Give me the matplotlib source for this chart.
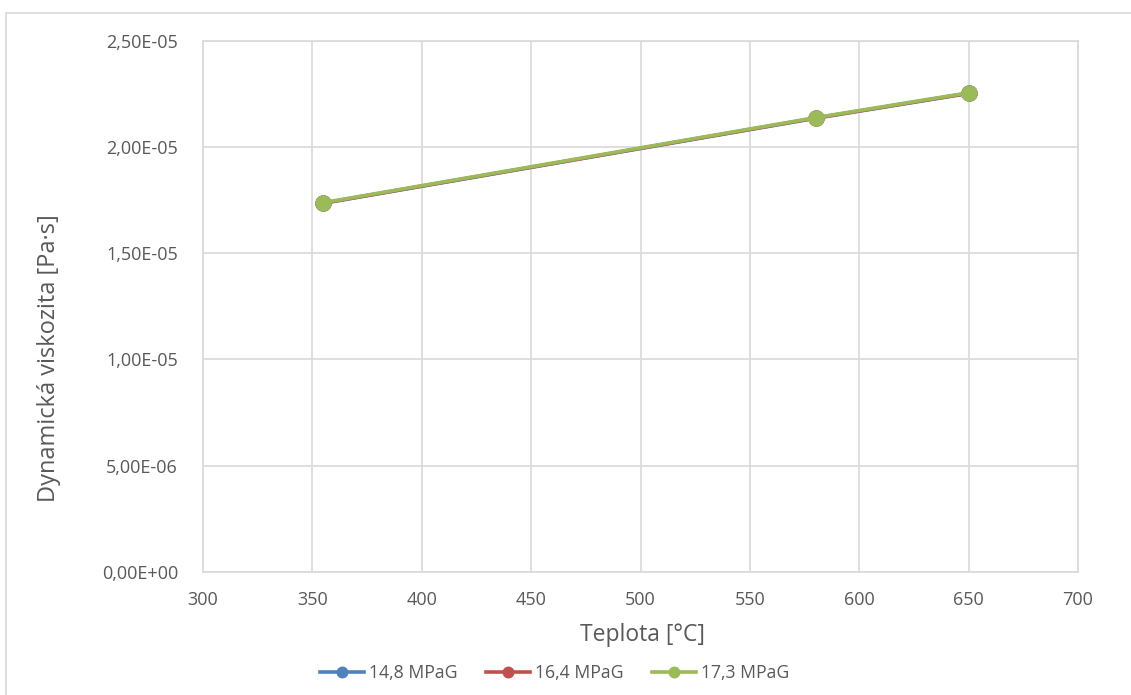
import matplotlib
matplotlib.use("Agg")
import matplotlib.pyplot as plt
from matplotlib.patches import Rectangle
from matplotlib.ticker import FuncFormatter, MultipleLocator

plt.rcParams["font.family"] = ["Open Sans", "DejaVu Sans"]

# data
teplota = [355, 580, 650]
visk_148 = [1.735e-05, 2.135e-05, 2.252e-05]
visk_164 = [1.736e-05, 2.136e-05, 2.253e-05]
visk_173 = [1.738e-05, 2.138e-05, 2.255e-05]
serie_names = ["14,8 MPaG", "16,4 MPaG", "17,3 MPaG"]
serie_colors = ["#4F81BD", "#C0504D", "#9BBB59"]

text_color = "#595959"
grid_color = "#D9D9D9"

fig = plt.figure(figsize=(11.31, 6.95), dpi=100)
ax = fig.add_axes([203 / 1131, 1 - 572 / 695, 875 / 1131, 531.3 / 695])

# outer chart border (runs off the right and bottom edge like in the source)
fig.patches.append(Rectangle((6 / 1131, -0.05), 1.2, 1 - 13 / 695 + 0.05,
                             transform=fig.transFigure, fill=False,
                             edgecolor=grid_color, linewidth=1.2))

for vals, name, col in zip([visk_148, visk_164, visk_173], serie_names, serie_colors):
    ax.plot(teplota, vals, color=col, linewidth=2.6, marker="o", markersize=10.8,
            markerfacecolor=col, markeredgecolor=col, label=name, zorder=3)

ax.set_xlim(300, 700)
ax.set_ylim(0, 2.5e-05)
ax.xaxis.set_major_locator(MultipleLocator(50))
ax.yaxis.set_major_locator(MultipleLocator(5e-06))


def sci_comma(v, pos):
    return f"{v:.2E}".replace(".", ",")


ax.yaxis.set_major_formatter(FuncFormatter(sci_comma))

ax.grid(True, color=grid_color, linewidth=1.2)
ax.set_axisbelow(True)
for side in ["left", "right", "top", "bottom"]:
    ax.spines[side].set_color(grid_color)
    ax.spines[side].set_linewidth(1.2)

ax.tick_params(axis="both", length=0, labelsize=13, colors=text_color)
ax.tick_params(axis="y", pad=18)
ax.tick_params(axis="x", pad=14)

ax.set_xlabel("Teplota [°C]", fontsize=16.5, color=text_color)
ax.set_ylabel("Dynamická viskozita [Pa·s]", fontsize=17, color=text_color)
ax.xaxis.set_label_coords(0.502, -0.1186)
ax.yaxis.set_label_coords(-0.176, 0.403)
ax.xaxis.label.set_va("center")
ax.yaxis.label.set_va("center")

leg = ax.legend(loc="center", bbox_to_anchor=(0.402, -0.19), ncol=3, frameon=False,
                fontsize=12.7, handlelength=2.5, columnspacing=1.6, handletextpad=0.3,
                markerscale=0.7, borderpad=0)
for t in leg.get_texts():
    t.set_color(text_color)

fig.savefig("out.png", dpi=100, facecolor="white")
